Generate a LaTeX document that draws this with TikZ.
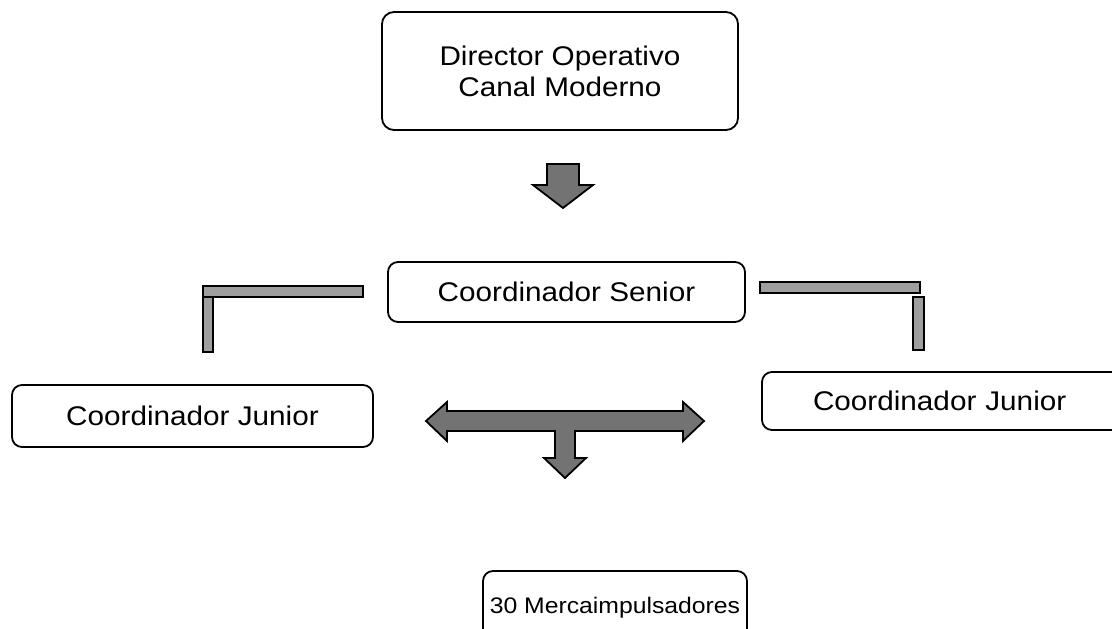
\documentclass[tikz,border=0pt]{standalone}
\usepackage{fontspec}
\setmainfont[FakeStretch=1.1]{Liberation Sans}
\begin{document}
\begin{tikzpicture}[x=1pt,y=-1pt,
  box/.style={draw=black, line width=1.8pt, rounded corners=12pt, fill=white, align=center,
    font=\fontsize{27}{31}\selectfont, inner sep=0pt},
  blockarrow/.style={draw=black, line width=1.8pt, fill=black!55, line join=miter},
  bar/.style={draw=black, line width=1.6pt, fill=black!38}]
\useasboundingbox (0,0) rectangle (1112,629);
\clip (0,0) rectangle (1112,629);
% boxes
\node[box, minimum width=356pt, minimum height=118pt] (dir) at (560,71) {Director Operativo\\Canal Moderno};
\node[box, minimum width=357pt, minimum height=60pt, rounded corners=10pt] (sen) at (566.5,292) {Coordinador Senior};
\node[box, minimum width=361pt, minimum height=62pt, rounded corners=10pt] (jl) at (192.5,416) {Coordinador Junior};
\node[box, minimum width=368pt, minimum height=58pt, rounded corners=10pt, text width=368pt, align=left] (jr) at (946,401) {\hspace*{51pt}Coordinador Junior};
\node[box, minimum width=264pt, minimum height=74pt, rounded corners=10pt, font=\fontsize{22.5}{27}\selectfont] (mer) at (615,608) {\raisebox{5pt}{30 Mercaimpulsadores}};
% small down arrow
\draw[blockarrow] (547,164) -- (579,164) -- (579,185) -- (593,185) -- (563,208) -- (533,185) -- (547,185) -- cycle;
% left L bracket
\draw[bar] (203,286) rectangle (363,297);
\draw[bar] (203,297) rectangle (213,352);
% right bracket pieces
\draw[bar] (760,282) rectangle (920,293);
\draw[bar] (913,297) rectangle (924,350);
% double arrow with down stem
\draw[blockarrow] (426,421) -- (447,402) -- (447,411) -- (683,411) -- (683,402) -- (704,421)
  -- (683,441) -- (683,431) -- (575,431) -- (575,458) -- (586,458) -- (565,478) -- (544,458)
  -- (555,458) -- (555,431) -- (447,431) -- (447,441) -- cycle;
\end{tikzpicture}
\end{document}
